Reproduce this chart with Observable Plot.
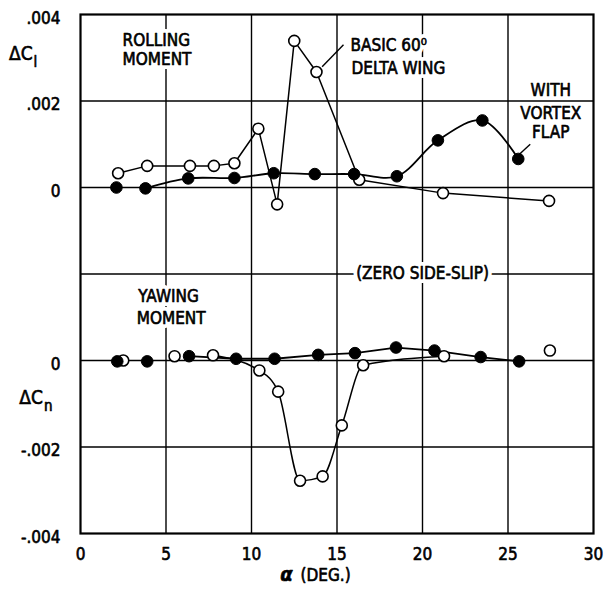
<!DOCTYPE html>
<html><head><meta charset="utf-8">
<script src="https://cdn.jsdelivr.net/npm/d3@7"></script>
<script src="https://cdn.jsdelivr.net/npm/@observablehq/plot@0.6"></script>
<style>
body{margin:0;background:#fff;}
#chart svg{display:block;}
</style></head><body><div id="chart"></div>
<script>
const FONT = "'DejaVu Sans Condensed','Liberation Sans Narrow','DejaVu Sans',sans-serif";

// axis ticks
const xTicks = [0, 5, 10, 15, 20, 25, 30];
const rollTickValues = [0.004, 0.002, 0];
const rollTickLabels = [".004", ".002", "0"];
const yawTickValues = [0, -0.002, -0.004];
const yawTickLabels = ["0", "-.002", "-.004"];
const OFFSET = 0.004; // rolling panel drawn above the yawing panel on one shared scale

// Rolling moment, basic 60 deg delta wing (open)
const rollBasicAlpha = [2.2, 3.9, 6.4, 7.8, 9.0, 10.4, 11.5, 12.5, 13.8, 16.3, 21.2, 27.4];
const rollBasic = [0.00033, 0.0005, 0.0005, 0.0005, 0.00056, 0.00136, -0.00039, 0.00339, 0.00267, 0.00018, -0.00013, -0.00031];
// Rolling moment, with vortex flap (filled)
const rollFlapAlpha = [2.1, 3.8, 6.3, 9.0, 11.3, 13.7, 16.0, 18.5, 20.9, 23.5, 25.6];
const rollFlap = [0, -0.00002, 0.00021, 0.00022, 0.00033, 0.00031, 0.00031, 0.00026, 0.00109, 0.00155, 0.00066];
// Yawing moment, basic (open)
const yawBasicAlpha = [2.5, 5.5, 7.75, 10.46, 11.56, 12.84, 14.16, 15.28, 16.53, 21.26, 27.45];
const yawBasic = [0, 0.0001, 0.00012, -0.00023, -0.00072, -0.00278, -0.00268, -0.0015, -0.00011, 0.0001, 0.00023];
// Yawing moment, with vortex flap (filled)
const yawFlapAlpha = [2.15, 3.9, 6.35, 9.1, 11.35, 13.9, 16.05, 18.45, 20.7, 23.4, 25.65];
const yawFlap = [-0.00002, -0.00002, 0.0001, 0.00004, 0.00004, 0.00013, 0.00017, 0.0003, 0.00023, 0.00008, -0.00002];

// annotations
const notes = [
  {text: "ROLLING", alpha: 2.46, panel: "roll", v: 0.0034, anchor: "start"},
  {text: "MOMENT", alpha: 2.46, panel: "roll", v: 0.00297, anchor: "start"},
  {text: "BASIC 60⁰", alpha: 15.79, panel: "roll", v: 0.00329, anchor: "start"},
  {text: "DELTA WING", alpha: 15.85, panel: "roll", v: 0.00276, anchor: "start"},
  {text: "WITH", alpha: 27.5, panel: "roll", v: 0.00224, anchor: "middle"},
  {text: "VORTEX", alpha: 27.5, panel: "roll", v: 0.00171, anchor: "middle"},
  {text: "FLAP", alpha: 27.5, panel: "roll", v: 0.00126, anchor: "middle"},
  {text: "(ZERO SIDE-SLIP)", alpha: 20.0, panel: "yaw", v: 0.002, anchor: "middle"},
  {text: "YAWING", alpha: 5.15, panel: "yaw", v: 0.00148, anchor: "middle"},
  {text: "MOMENT", alpha: 5.3, panel: "yaw", v: 0.00096, anchor: "middle"}
];
const leaders = [
  {a1: 15.38, v1: 0.0033, a2: 14.13, v2: 0.00279, panel: "roll"},
  {a1: 26.3, v1: 0.001, a2: 25.54, v2: 0.00072, panel: "roll"}
];
const yLabels = [
  {main: "ΔC", sub: "l", alpha: -2.8, panel: "roll", v: 0.00309},
  {main: "ΔC", sub: "n", alpha: -2.2, panel: "yaw", v: -0.00087}
];

const shift = p => (p === "roll" ? OFFSET : 0);
const rows = (alpha, vals, panel) => alpha.map((a, i) => ({alpha: a, v: vals[i], y: vals[i] + shift(panel), i}));
const rb = rows(rollBasicAlpha, rollBasic, "roll");
const rf = rows(rollFlapAlpha, rollFlap, "roll");
const yb = rows(yawBasicAlpha, yawBasic, "yaw");
const yf = rows(yawFlapAlpha, yawFlap, "yaw");

const key = d => Math.round(d * 1e6);
const tickMap = new Map();
rollTickValues.forEach((t, i) => tickMap.set(key(t + OFFSET), rollTickLabels[i]));
yawTickValues.forEach((t, i) => tickMap.set(key(t), yawTickLabels[i]));
const yTicks = [...rollTickValues.map(t => t + OFFSET), ...yawTickValues];
const gridY = [0.002 + OFFSET, 0 + OFFSET, -0.002 + OFFSET, 0, -0.002];
const gridX = [5, 10, 15, 20, 25];

const nrows = notes.map(d => ({...d, y: d.v + shift(d.panel)}));
const lrows = leaders.map(d => ({...d, y1: d.v1 + shift(d.panel), y2: d.v2 + shift(d.panel)}));
const ylrows = yLabels.map(d => ({...d, y: d.v + shift(d.panel)}));

const haloStyle = {stroke: "white", strokeWidth: 8, fill: "white", fontSize: 17, fontFamily: FONT};
const inkStyle = {stroke: "black", strokeWidth: 0.6, fill: "black", fontSize: 17, fontFamily: FONT};
const ink = {stroke: "black", strokeWidth: 0.6, fill: "black", fontFamily: FONT};

const starts = nrows.filter(d => d.anchor === "start");
const mids = nrows.filter(d => d.anchor === "middle");

const chart = Plot.plot({
  width: 605,
  height: 593,
  marginLeft: 80,
  marginRight: 12,
  marginTop: 14,
  marginBottom: 60,
  style: {fontFamily: FONT, fontSize: "17px", color: "black", background: "white"},
  x: {domain: [0, 30]},
  y: {domain: [-0.004, 0.008]},
  marks: [
    Plot.ruleX(gridX, {stroke: "black", strokeWidth: 1.4}),
    Plot.ruleY(gridY, {stroke: "black", strokeWidth: 1.4}),
    Plot.frame({stroke: "black", strokeWidth: 2.2}),
    Plot.axisX({ticks: xTicks, tickSize: 0, tickPadding: 14, tickFormat: d => String(d), fontSize: 17, textStroke: "black", textStrokeWidth: 0.6}),
    Plot.axisY({ticks: yTicks, tickSize: 0, tickPadding: 20, dy: 4, tickFormat: d => tickMap.get(key(d)), fontSize: 17, textStroke: "black", textStrokeWidth: 0.6}),
    // white halos breaking the grid behind the lettering, as in the original
    Plot.text(starts, {x: "alpha", y: "y", text: "text", textAnchor: "start", ...haloStyle}),
    Plot.text(mids, {x: "alpha", y: "y", text: "text", textAnchor: "middle", ...haloStyle}),
    Plot.text(starts, {x: "alpha", y: "y", text: "text", textAnchor: "start", ...inkStyle}),
    Plot.text(mids, {x: "alpha", y: "y", text: "text", textAnchor: "middle", ...inkStyle}),
    Plot.link(lrows, {x1: "a1", y1: "y1", x2: "a2", y2: "y2", stroke: "black", strokeWidth: 1.4}),
    // lines
    Plot.line(rb, {x: "alpha", y: "y", stroke: "black", strokeWidth: 1.5}),
    Plot.line(rf.filter(d => d.i >= 1), {x: "alpha", y: "y", stroke: "black", strokeWidth: 1.8, curve: "catmull-rom"}),
    Plot.line(yb.filter(d => d.i >= 2 && d.i <= 9), {x: "alpha", y: "y", stroke: "black", strokeWidth: 1.5, curve: "monotone-x"}),
    Plot.line(yf.filter(d => d.i >= 2), {x: "alpha", y: "y", stroke: "black", strokeWidth: 1.8}),
    // markers
    Plot.dot(rb, {x: "alpha", y: "y", r: 5.5, fill: "white", stroke: "black", strokeWidth: 1.6}),
    Plot.dot(yb, {x: "alpha", y: "y", r: 5.5, fill: "white", stroke: "black", strokeWidth: 1.6}),
    Plot.dot(rf, {x: "alpha", y: "y", r: 5.8, fill: "black", stroke: "black", strokeWidth: 1}),
    Plot.dot(yf, {x: "alpha", y: "y", r: 5.8, fill: "black", stroke: "black", strokeWidth: 1}),
    // y-axis titles
    Plot.text(ylrows, {x: "alpha", y: "y", text: "main", textAnchor: "end", fontSize: 19, ...ink}),
    Plot.text(ylrows, {x: "alpha", y: "y", text: "sub", textAnchor: "start", dx: 1, dy: 8, fontSize: 15, ...ink}),
    // x-axis title
    Plot.text([{alpha: 12.05, t: "α"}], {x: "alpha", text: "t", frameAnchor: "bottom", dy: 47, fontSize: 20, fontWeight: "bold", fontStyle: "italic", ...ink}),
    Plot.text([{alpha: 12.87, t: "(DEG.)"}], {x: "alpha", text: "t", frameAnchor: "bottom", dy: 47, textAnchor: "start", fontSize: 17, ...ink})
  ]
});
document.getElementById("chart").appendChild(chart);
</script>
</body></html>
